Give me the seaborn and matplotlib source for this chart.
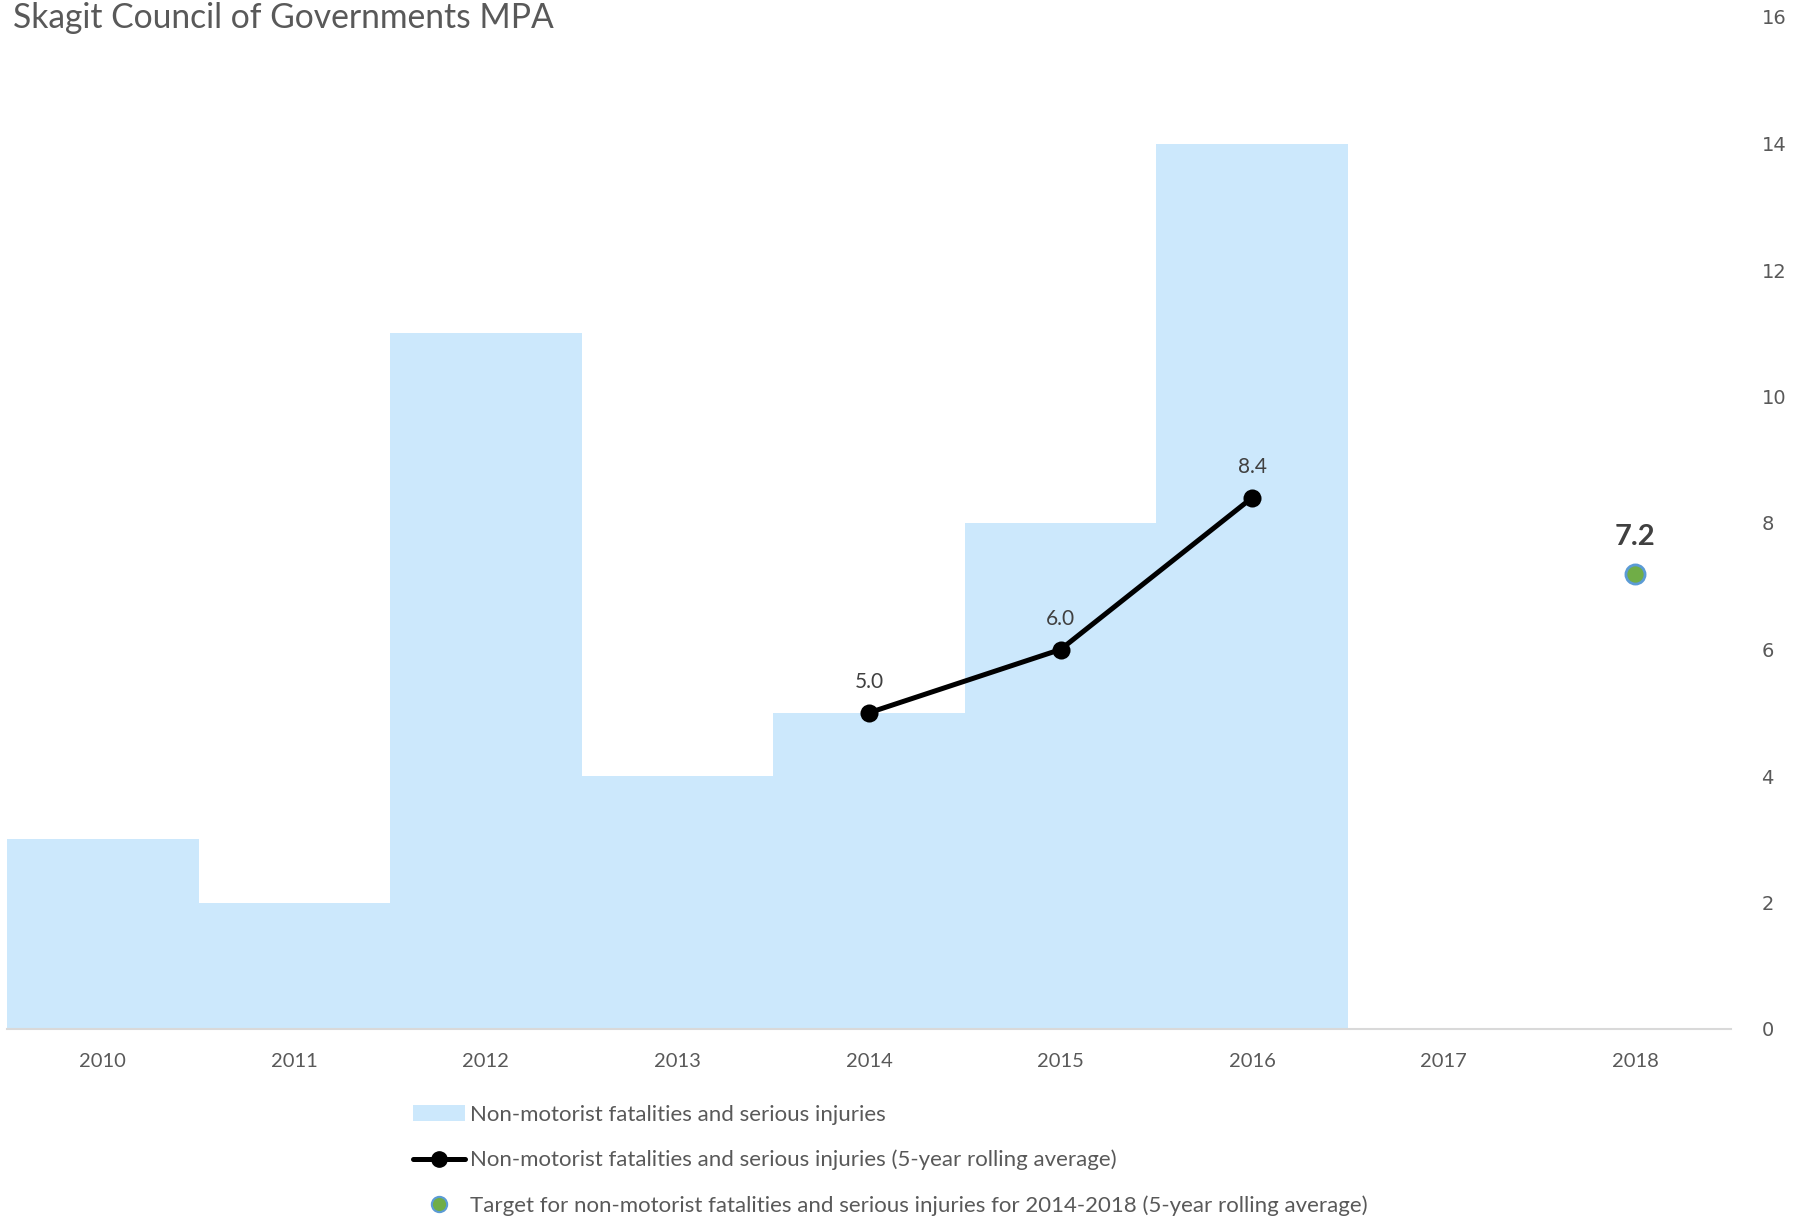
import matplotlib
matplotlib.use("Agg")
import matplotlib.pyplot as plt
import seaborn as sns
from matplotlib.patches import Patch
from matplotlib.lines import Line2D

# Data
years = [2010, 2011, 2012, 2013, 2014, 2015, 2016, 2017, 2018]
bar_years = [2010, 2011, 2012, 2013, 2014, 2015, 2016]
counts = [3, 2, 11, 4, 5, 8, 14]
avg_years = [2014, 2015, 2016]
rolling_avg = [5.0, 6.0, 8.4]
target_year = [2018]
target_value = [7.2]

labels = [
    "Non-motorist fatalities and serious injuries",
    "Non-motorist fatalities and serious injuries (5-year rolling average)",
    "Target for non-motorist fatalities and serious injuries for 2014-2018 (5-year rolling average)",
]

BAR_COLOR = "#CCE8FC"
TEXT_COLOR = "#595959"
GREEN = "#70AD47"
BLUE_EDGE = "#5B9BD5"

sns.set_theme(style="white")
plt.rcParams["font.family"] = ["Lato", "DejaVu Sans"]

fig = plt.figure(figsize=(18.03, 12.20), dpi=100)
ax = fig.add_axes([7 / 1803, 1 - 1029 / 1220, 1724 / 1803, 1012 / 1220])

sns.barplot(x=bar_years, y=counts, native_scale=True, width=1.0,
            color=BAR_COLOR, saturation=1, linewidth=0, ax=ax)

sns.lineplot(x=avg_years, y=rolling_avg, color="black", linewidth=3.6,
             marker="o", markersize=13, markeredgecolor="black",
             markeredgewidth=0, ax=ax)

sns.scatterplot(x=target_year, y=target_value, s=190, color=GREEN,
                edgecolor=BLUE_EDGE, linewidth=2, zorder=5, ax=ax)

for x, y in zip(avg_years, rolling_avg):
    ax.annotate(f"{y:.1f}", (x, y), xytext=(0, 15), textcoords="offset points",
                ha="center", va="bottom", fontsize=15, color="#404040")
for x, y in zip(target_year, target_value):
    ax.annotate(f"{y:.1f}", (x, y), xytext=(0, 17), textcoords="offset points",
                ha="center", va="bottom", fontsize=21, fontweight="bold",
                color="#404040")

ax.set_xlim(2009.5, 2018.5)
ax.set_xticks(years)
ax.set_xticklabels([str(y) for y in years])
ax.set_ylim(0, 16)
ax.set_yticks(range(0, 17, 2))
ax.yaxis.tick_right()
ax.tick_params(axis="y", length=0, pad=22, labelsize=14, labelcolor=TEXT_COLOR)
ax.tick_params(axis="x", length=0, pad=17, labelsize=14.5, labelcolor=TEXT_COLOR)
for lbl in ax.get_yticklabels():
    lbl.set_fontfamily(["DejaVu Sans"])
ax.set_xlabel("")
ax.set_ylabel("")
for side in ["top", "left", "right"]:
    ax.spines[side].set_visible(False)
ax.spines["bottom"].set_color("#D9D9D9")
ax.spines["bottom"].set_linewidth(1.5)
ax.grid(False)

fig.text(13 / 1803, 1 - 18 / 1220, "Skagit Council of Governments MPA",
         ha="left", va="center", fontsize=24.2, color=TEXT_COLOR)

handles = [
    Patch(facecolor=BAR_COLOR, edgecolor="none"),
    Line2D([0], [0], color="black", linewidth=3.6, marker="o", markersize=11),
    Line2D([0], [0], linestyle="", marker="o", markersize=11,
           markerfacecolor=GREEN, markeredgecolor=BLUE_EDGE, markeredgewidth=1.5),
]
fig.legend(handles, labels, loc="upper left",
           bbox_to_anchor=(413 / 1803, 1 - 1105 / 1220), frameon=False,
           fontsize=16, labelcolor=TEXT_COLOR, labelspacing=1.12,
           handlelength=2.35, handletextpad=0.2, borderpad=0, borderaxespad=0)

fig.savefig("out.png", dpi=100)
